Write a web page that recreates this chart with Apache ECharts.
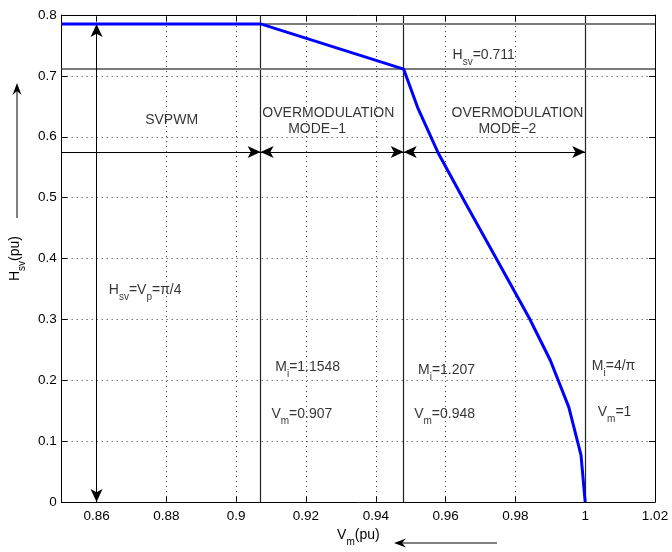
<!DOCTYPE html>
<html><head><meta charset="utf-8">
<script src="https://cdn.jsdelivr.net/npm/echarts@6/dist/echarts.min.js"></script>
<style>html,body{margin:0;padding:0;background:#fff}#c{width:672px;height:552px}</style>
</head><body><div id="c"></div>
<script>
// ---- data ----
const xTicks = [0.86, 0.88, 0.9, 0.92, 0.94, 0.96, 0.98, 1, 1.02];
const yTicks = [0, 0.1, 0.2, 0.3, 0.4, 0.5, 0.6, 0.7, 0.8];
const vm  = [0.85, 0.907, 0.948, 0.952, 0.958, 0.966, 0.975, 0.984, 0.990, 0.9953, 0.9988, 1.0];
const hsv = [0.7854, 0.7854, 0.711, 0.648, 0.572, 0.488, 0.395, 0.302, 0.233, 0.156, 0.077, 0];
const modeBoundaries = [0.907, 0.948, 1.0];
const hsvLevels = [0.7854, 0.711];
const spanArrowY = 0.575;
const spanStarts = [0.85, 0.907, 0.948];
const spanEnds = [0.907, 0.948, 1.0];
const spanStartHeads = ['none', 'arrow', 'arrow'];
const vpArrowX = 0.86;
const regionNames = ['SVPWM', 'OVERMODULATION', 'MODE\u22121', 'OVERMODULATION', 'MODE\u22122'];
const regionNameX = [0.8815, 0.9264, 0.9232, 0.9806, 0.9777];
const regionNameY = [0.6276, 0.639, 0.613, 0.639, 0.613];
const noteTexts = [
  '{n|H}{s|sv}{n|=0.711}',
  '{n|H}{s|sv}{n|=V}{s|p}{n|=\u03c0/4}',
  '{n|M}{s|i}{n|=1.1548}',
  '{n|V}{s|m}{n|=0.907}',
  '{n|M}{s|i}{n|=1.207}',
  '{n|V}{s|m}{n|=0.948}',
  '{n|M}{s|i}{n|=4/\u03c0}',
  '{n|V}{s|m}{n|=1}'
];
const noteX = [0.962, 0.8635, 0.9112, 0.9101, 0.9521, 0.951, 1.0019, 1.0036];
const noteY = [0.7347, 0.3484, 0.221, 0.1443, 0.2173, 0.1443, 0.2227, 0.147];
const xName = '{n|V}{s|m}{n|(pu)}';
const yName = '{n|H}{s|sv}{n|(pu)}';

// ---- chart ----
const FONT = '"Liberation Sans", Arial, Helvetica, sans-serif';
const XMIN = 0.85, XMAX = 1.02, YMIN = 0, YMAX = 0.8;
const rich = {
  n: {fontFamily: FONT, fontSize: 14, color: '#000', lineHeight: 24, verticalAlign: 'middle'},
  s: {fontFamily: FONT, fontSize: 10, color: '#000', lineHeight: 10, verticalAlign: 'bottom'}
};
const chart = echarts.init(document.getElementById('c'), null, {renderer: 'canvas'});

function xAxisBase(pos, showLabel) {
  return {
    type: 'value', position: pos, min: XMIN, max: XMAX,
    axisLine: {show: true, onZero: false, lineStyle: {color: '#000', width: 1}},
    axisTick: {show: true, inside: true, length: 6, customValues: xTicks, lineStyle: {color: '#000'}},
    axisLabel: {show: showLabel, customValues: xTicks, margin: 7, color: '#000', fontFamily: FONT, fontSize: 13.5},
    splitLine: {show: false}
  };
}
function yAxisBase(pos, showLabel) {
  return {
    type: 'value', position: pos, min: YMIN, max: YMAX, interval: 0.1,
    axisLine: {show: true, onZero: false, lineStyle: {color: '#000', width: 1}},
    axisTick: {show: true, inside: true, length: 6, lineStyle: {color: '#000'}},
    axisLabel: {show: showLabel, margin: 5, color: '#000', fontFamily: FONT, fontSize: 13.5,
      formatter: v => String(Math.round(v * 10) / 10)},
    splitLine: {show: false}
  };
}
const xa = xAxisBase('bottom', true);
xa.name = xName; xa.nameLocation = 'middle'; xa.nameGap = 18;
xa.nameTextStyle = {rich: rich};
const ya = yAxisBase('left', true);
ya.name = yName; ya.nameLocation = 'middle'; ya.nameGap = 27;
ya.nameTextStyle = {rich: rich};

// dotted grid lines at tick positions (skip those on the frame)
const gridStyle = {color: '#333', width: 1, type: [1, 4]};
const gridData = [];
xTicks.filter(x => x > XMIN && x < XMAX).forEach(x => gridData.push([
  {coord: [x, YMIN], symbol: 'none'}, {coord: [x, YMAX], symbol: 'none', lineStyle: gridStyle}
]));
yTicks.filter(y => y > YMIN && y < YMAX).forEach(y => gridData.push([
  {coord: [XMIN, y], symbol: 'none'}, {coord: [XMAX, y], symbol: 'none', lineStyle: gridStyle}
]));

const markData = [];
modeBoundaries.forEach(x => markData.push([
  {coord: [x, YMIN], symbol: 'none'}, {coord: [x, YMAX], symbol: 'none', lineStyle: {color: '#222', width: 1.2, type: 'solid'}}
]));
hsvLevels.forEach(y => markData.push([
  {coord: [XMIN, y], symbol: 'none'}, {coord: [XMAX, y], symbol: 'none', lineStyle: {color: '#7a7a7a', width: 2, type: 'solid'}}
]));
spanStarts.forEach((s, i) => markData.push([
  {coord: [s, spanArrowY], symbol: spanStartHeads[i]},
  {coord: [spanEnds[i], spanArrowY], symbol: 'arrow', lineStyle: {color: '#000', width: 1, type: 'solid'}}
]));
markData.push([
  {coord: [vpArrowX, YMIN], symbol: 'arrow'},
  {coord: [vpArrowX, hsvLevels[0]], symbol: 'arrow', lineStyle: {color: '#000', width: 1, type: 'solid'}}
]);

const labelData = [];
regionNames.forEach((t, i) => labelData.push({
  value: [regionNameX[i], regionNameY[i]],
  label: {show: true, position: 'inside', formatter: t, color: '#000', fontFamily: FONT, fontSize: 14}
}));
noteTexts.forEach((t, i) => labelData.push({
  value: [noteX[i], noteY[i]],
  label: {show: true, position: 'right', distance: 0, formatter: t, rich: rich}
}));

chart.setOption({
  animation: false,
  backgroundColor: '#fff',
  grid: {left: 59, top: 15, width: 596, height: 494, containLabel: false},
  xAxis: [xa, xAxisBase('top', false)],
  yAxis: [ya, yAxisBase('right', false)],
  series: [
    {
      type: 'line', data: [], z: 0, silent: true,
      markLine: {silent: true, symbol: 'none', label: {show: false}, animation: false, data: gridData}
    },
    {
      type: 'line', data: [], z: 1, silent: true,
      markLine: {silent: true, symbolSize: [9, 13], label: {show: false}, animation: false, data: markData}
    },
    {
      type: 'line', z: 5, silent: true, symbol: 'none',
      data: vm.map((x, i) => [x, hsv[i]]),
      lineStyle: {color: '#0000ff', width: 3}
    },
    {
      type: 'scatter', z: 6, silent: true, symbolSize: 0,
      data: labelData
    }
  ],
  graphic: [
    {type: 'line', shape: {x1: 17, y1: 218, x2: 17, y2: 86}, style: {stroke: '#000', lineWidth: 1}},
    {type: 'polygon', shape: {points: [[17, 83], [12.5, 95], [17, 91], [21.5, 95]]}, style: {fill: '#000'}},
    {type: 'line', shape: {x1: 497, y1: 543, x2: 397, y2: 543}, style: {stroke: '#000', lineWidth: 1}},
    {type: 'polygon', shape: {points: [[394, 543], [406, 538.5], [402, 543], [406, 547.5]]}, style: {fill: '#000'}}
  ]
});
</script>
</body></html>
